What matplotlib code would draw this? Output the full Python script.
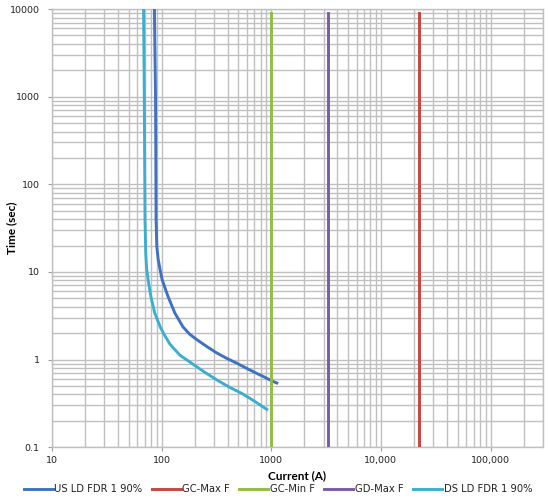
import matplotlib
matplotlib.use("Agg")
import matplotlib.pyplot as plt
from matplotlib.ticker import FixedLocator, FixedFormatter, LogLocator, NullFormatter

# time-current curves (current in A, time in s)
us_current = [86, 87, 88, 88.5, 89, 90.4, 93, 97, 101, 114, 132, 157, 180, 209,
              260, 318, 400, 484, 600, 738, 880, 1012, 1124]
us_time = [10000, 3000, 1000, 200, 40, 19.6, 14, 10.5, 8.2, 5.3, 3.4, 2.35, 1.95, 1.69,
           1.40, 1.19, 1.02, 0.91, 0.79, 0.695, 0.625, 0.57, 0.54]

ds_current = [68.5, 69, 69.5, 70, 70.6, 71.6, 73, 75.2, 79.6, 86.5, 98, 105, 119, 147,
              200, 250, 330, 420, 550, 690, 910]
ds_time = [10000, 3000, 1000, 200, 40, 16.5, 11, 8.2, 5.3, 3.4, 2.3, 1.95, 1.5, 1.12,
           0.86, 0.71, 0.57, 0.48, 0.405, 0.34, 0.27]

# fault-current markers: vertical lines at a fixed current
gc_max_f = 22400
gc_min_f = 1000
gd_max_f = 3300
marker_time = [0.1, 9000]

x_ticks = [10, 100, 1000, 10000, 100000]
x_labels = ["10", "100", "1000", "10,000", "100,000"]
y_ticks = [0.1, 1, 10, 100, 1000, 10000]
y_labels = ["0.1", "1", "10", "100", "1000", "10000"]

fig = plt.figure(figsize=(5.5, 5.03), dpi=100)
ax = fig.add_axes([0.0945, 0.111, 0.8925, 0.871])

grid_c = "#c0c0c0"
lw = 2.1
ax.plot(us_current, us_time, color="#3f72c0", lw=lw, label="US LD FDR 1 90%", zorder=3,
        solid_joinstyle="round")
ax.plot([gc_max_f] * 2, marker_time, color="#c9453f", lw=lw, label="GC-Max F", zorder=3)
ax.plot([gc_min_f] * 2, marker_time, color="#92bd45", lw=lw, label="GC-Min F", zorder=3)
ax.plot([gd_max_f] * 2, marker_time, color="#7d5aa8", lw=lw, label="GD-Max F", zorder=3)
ax.plot(ds_current, ds_time, color="#3cafd0", lw=lw, label="DS LD FDR 1 90%", zorder=3,
        solid_joinstyle="round")

ax.set_xscale("log")
ax.set_yscale("log")
ax.set_xlim(10, 300000)
ax.set_ylim(0.1, 10000)

ax.xaxis.set_major_locator(FixedLocator(x_ticks))
ax.xaxis.set_major_formatter(FixedFormatter(x_labels))
ax.yaxis.set_major_locator(FixedLocator(y_ticks))
ax.yaxis.set_major_formatter(FixedFormatter(y_labels))
ax.xaxis.set_minor_locator(LogLocator(base=10, subs=range(2, 10), numticks=20))
ax.yaxis.set_minor_locator(LogLocator(base=10, subs=range(2, 10), numticks=20))
ax.xaxis.set_minor_formatter(NullFormatter())
ax.yaxis.set_minor_formatter(NullFormatter())

ax.grid(True, which="both", color=grid_c, lw=1.0, zorder=0)
ax.set_axisbelow(True)
for s in ax.spines.values():
    s.set_color(grid_c)
    s.set_linewidth(1.0)
ax.tick_params(which="major", length=3, color="#a0a0a0", labelsize=6.8, pad=3,
               labelcolor="#222222")
ax.tick_params(axis="y", which="major", pad=6)
ax.tick_params(which="minor", length=0)

ax.set_xlabel("Current (A)", fontsize=8.5, fontweight="bold", family="Lato", labelpad=4)
ax.set_ylabel("Time (sec)", fontsize=8.5, fontweight="bold", family="Lato")
ax.yaxis.set_label_coords(-0.071, 0.5)

fig.legend(loc="lower center", bbox_to_anchor=(0.505, 0.0), ncol=5, frameon=False,
           fontsize=7.2, handlelength=2.9, handletextpad=0.15, columnspacing=0.95,
           labelcolor="#222222")

fig.savefig("out.png", dpi=100)
